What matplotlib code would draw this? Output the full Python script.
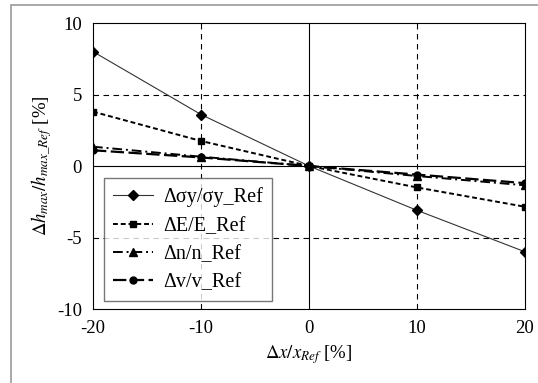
import matplotlib.pyplot as plt
from matplotlib.patches import Rectangle

plt.rcParams['font.family'] = ['Liberation Serif', 'DejaVu Serif']
plt.rcParams['mathtext.fontset'] = 'stix'
plt.rcParams['axes.unicode_minus'] = False

x = [-20, -10, 0, 10, 20]
sigma_y = [8.0, 3.6, 0.0, -3.1, -6.0]
e_mod = [3.8, 1.75, 0.0, -1.5, -2.85]
n_exp = [1.35, 0.65, 0.0, -0.7, -1.35]
nu = [1.1, 0.6, 0.0, -0.6, -1.2]

fig = plt.figure(figsize=(5.38, 3.83), dpi=100)
ax = fig.add_axes([93 / 538, 1 - 309 / 383, 432 / 538, 286 / 383])

# outer frame
fig.patches.append(Rectangle((11 / 538, -0.1), 1.2, (383 - 5) / 383 + 0.1,
                             transform=fig.transFigure, fill=False,
                             edgecolor='#999999', linewidth=1.2))

for gx in [-10, 10]:
    ax.axvline(gx, color='black', linestyle=(0, (5, 4)), linewidth=0.8, zorder=1)
for gy in [5, -5]:
    ax.axhline(gy, color='black', linestyle=(0, (5, 4)), linewidth=0.8, zorder=1)
ax.axvline(0, color='black', linewidth=0.8, zorder=1)
ax.axhline(0, color='black', linewidth=0.8, zorder=1)

ax.plot(x, sigma_y, color='#333333', linewidth=0.8, marker='D', markersize=5,
        markerfacecolor='black', markeredgecolor='black',
        label='Δσy/σy_Ref', zorder=3)
ax.plot(x, e_mod, color='black', linewidth=1.4, linestyle=(0, (2.5, 1.5)),
        marker='s', markersize=5, label='ΔE/E_Ref', zorder=3)
ax.plot(x, n_exp, color='black', linewidth=1.4, linestyle=(0, (5, 2, 1, 2)),
        marker='^', markersize=5.5, label='Δn/n_Ref', zorder=3)
ax.plot(x, nu, color='black', linewidth=1.6, linestyle=(0, (6, 2)),
        marker='o', markersize=5, label='Δv/v_Ref', zorder=3)

ax.set_xlim(-20, 20)
ax.set_ylim(-10, 10)
ax.set_xticks([-20, -10, 0, 10, 20])
ax.set_yticks([-10, -5, 0, 5, 10])
ax.tick_params(direction='out', length=0, labelsize=13.5, pad=8)
for s in ax.spines.values():
    s.set_color('black')
    s.set_linewidth(0.8)

ax.set_xlabel(r'$\mathit{\Delta x/x_{Ref}}$ [%]', fontsize=13.5, labelpad=4)
ax.set_ylabel(r'$\mathit{\Delta h_{max}/h_{max\_Ref}}$ [%]', fontsize=13.5, labelpad=2)

leg = ax.legend(loc='lower left', bbox_to_anchor=(11 / 432, 8 / 286),
                borderaxespad=0, fontsize=14.5, frameon=True, fancybox=False,
                edgecolor='#555555', handlelength=2.0, handletextpad=0.5,
                labelspacing=0.45, borderpad=0.45)
leg.get_frame().set_linewidth(1.0)

fig.savefig('out.png', dpi=100)
